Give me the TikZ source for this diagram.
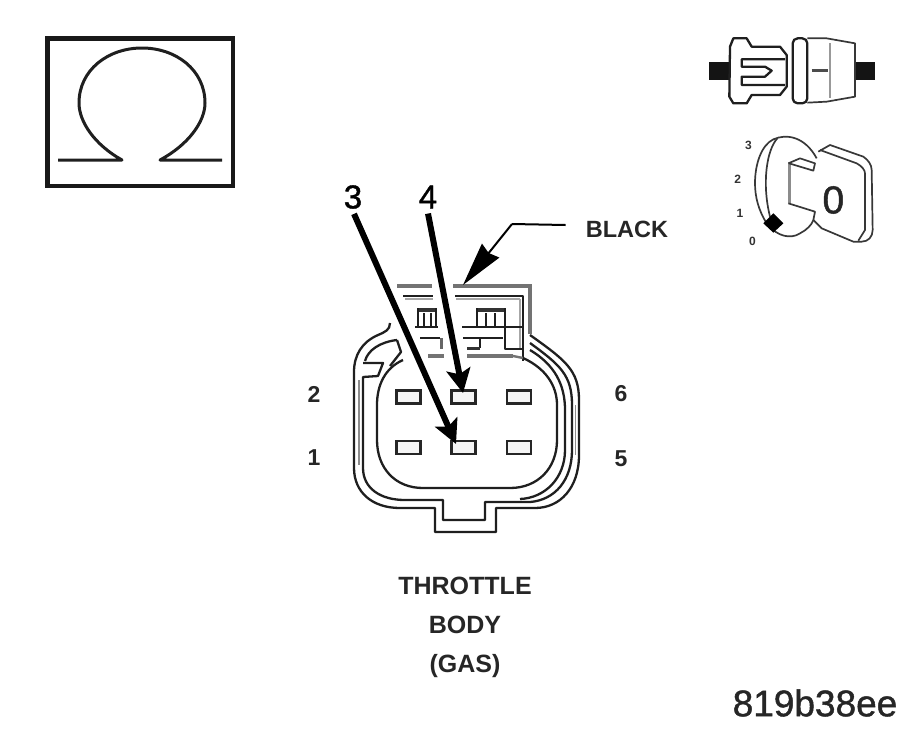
\documentclass[tikz,border=0pt]{standalone}
\usepackage{fontspec}
\setmainfont{Liberation Sans}
\newfontfamily\heavyfont[FakeBold=1.2]{Liberation Sans}
\usetikzlibrary{arrows.meta}
\newcommand{\fsz}[1]{\fontsize{#1}{#1}\selectfont}
\tikzset{
 ink/.style={draw=black!88,line width=2.3pt,line join=round},
 thinink/.style={draw=black!78,line width=1.7pt,line join=round},
 greyline/.style={draw=black!55,line width=3.8pt},
 pinbox/.style={draw=black!85,line width=2.5pt,fill=black!4,minimum width=24pt,minimum height=13pt,inner sep=0pt,outer sep=0pt},
 biglabel/.style={font=\fsz{33}\heavyfont,inner sep=0pt},
 pinlabel/.style={font=\fsz{23}\bfseries,text=black!85,inner sep=0pt},
 caption/.style={font=\fsz{25}\bfseries,text=black!85,inner sep=0pt},
 keylabel/.style={font=\fsz{12}\bfseries,text=black!80,inner sep=0pt},
 pointer/.style={draw=black,line width=6pt,-{Stealth[length=24pt,width=24pt,inset=5pt]}},
}
\begin{document}
\begin{tikzpicture}[x=1pt,y=-1pt]
\useasboundingbox (0,0) rectangle (917,734);
% Omega box
\draw[draw=black!90,line width=4.5pt] (47.5,38.5) rectangle (233,186);
\draw[ink,line width=3pt] (58,160) -- (122,160) .. controls (95,145) and (79,122) .. (79,103)
  .. controls (79,70) and (108,48) .. (142,48) .. controls (176,48) and (205,70) .. (205,103)
  .. controls (205,122) and (188,145) .. (160,160) -- (222,160);
% Switch icon
\begin{scope}[shift={(690,30)},scale=1/3]
 \fill[black!92] (58,95) rectangle (120,150);
 \fill[black!92] (497,95) rectangle (555,150);
 \draw[ink] (120,50) -- (130,25) -- (170,25) -- (185,50) -- (270,50) -- (290,75) -- (290,170) -- (270,195) -- (185,195) -- (170,220) -- (130,220) -- (118,200) -- cycle;
 \draw[ink] (285,88) -- (155,88) -- (155,110) -- (225,110) -- (245,122) -- (225,140) -- (155,140) -- (155,165) -- (285,165);
 \draw[ink,rounded corners=5pt] (308,25) rectangle (352,220);
 \draw[thinink] (352,25) -- (410,25) -- (495,40) -- (495,200) -- (410,215) -- (352,218);
 \draw[draw=black!40,line width=2pt] (420,40) -- (420,205);
 \draw[draw=black!70,line width=3pt] (365,120) -- (415,120);
 % key
 \draw[thinink] (230,580) .. controls (205,540) and (195,500) .. (195,460) .. controls (195,400) and (215,345) .. (250,328) .. controls (290,310) and (345,320) .. (380,385);
 \draw[thinink] (262,325) .. controls (230,360) and (215,460) .. (240,560);
 \draw[thinink] (240,590) .. controls (260,615) and (300,630) .. (330,610) .. controls (350,600) and (365,585) .. (370,570);
 \draw[draw=black!45,line width=3pt] (297,400) -- (297,520);
 \draw[thinink] (295,400) -- (330,385) -- (375,400) -- (370,422) -- (297,400);
 \draw[thinink] (295,520) -- (375,545) -- (370,570);
 \draw[thinink] (385,365) -- (420,345) -- (520,380) .. controls (535,390) and (545,405) .. (545,420) -- (548,600) .. controls (548,620) and (535,635) .. (515,635) -- (490,635) -- (395,595) -- (370,570);
 \draw[thinink] (390,360) -- (500,400) .. controls (515,408) and (525,420) .. (525,430) -- (525,600) -- (505,632);
 \fill[black] (250,550) -- (280,580) -- (250,608) -- (220,580) -- cycle;
 \node[keylabel] (k3) at (175,347) {3};
 \node[keylabel] (k2) at (143,448) {2};
 \node[keylabel] (k1) at (150,550) {1};
 \node[keylabel] (k0) at (187,635) {0};
 \node[font=\fsz{39}\heavyfont,text=black!85,inner sep=0pt] (k) at (430,510) {0};
\end{scope}
% Connector top part
\draw[greyline] (397,286) -- (432,286);
\draw[greyline] (453,286) -- (532,286);
\draw[greyline] (530,286) -- (530,334);
\draw[draw=black!35,line width=2pt] (520,299) -- (520,348) (456,299) -- (520,299) (405,299) -- (433,299);
\draw[ink] (403,296) -- (433,296);
\draw[ink] (455,296) -- (523,296) -- (523,361);
% left latch
\draw[draw=black!80,line width=4pt] (418,310) -- (436,310);
\draw[ink] (418,308) -- (418,327) (436,308) -- (436,327) (424,313) -- (424,327) (431,313) -- (431,327);
\draw[ink] (415,327) -- (438,327);
\draw[ink] (420,338) -- (440,338);
\draw[draw=black!60,line width=3pt] (441,338) -- (441,349);
\draw[greyline] (428,356) -- (444,356);
% right latch
\draw[draw=black!80,line width=4pt] (477,310) -- (505,310);
\draw[ink] (477,308) -- (477,327) (486,313) -- (486,327) (495,313) -- (495,327) (505,308) -- (505,349) -- (523,349);
\draw[ink] (462,327) -- (523,327);
\draw[ink] (463,338) -- (503,338);
\draw[ink] (480,338) -- (480,348);
\draw[draw=black!80,line width=3pt] (467,348) -- (480,348);
\draw[greyline] (467,356) -- (513,356);
\draw[greyline,line width=2.4pt] (513,356) -- (523,358);
% shell, outer line
\draw[ink] (390,323) .. controls (390,330) and (385,332) .. (378,335) .. controls (362,342) and (354,355) .. (354,372)
  -- (354,468) .. controls (354,492) and (372,508) .. (400,508) -- (435,508) -- (435,532) -- (496,532) -- (496,508) -- (535,508)
  .. controls (560,508) and (579,488) .. (579,455) -- (579,400) .. controls (579,370) and (565,360) .. (530,335);
% second line
\draw[ink] (397,340) .. controls (380,342) and (368,350) .. (365,361);
\draw[ink] (363,363) -- (383,363) -- (378,376) -- (363,377) -- (363,468) .. controls (363,488) and (380,500) .. (405,500)
  -- (443,500) -- (443,520) -- (485,520) -- (485,502) -- (530,502)
  .. controls (555,500) and (572,480) .. (572,450) -- (572,405) .. controls (572,375) and (560,365) .. (530,343);
\draw[draw=black!45,line width=2pt] (358.5,380) -- (358.5,465);
\draw[draw=black!45,line width=1.6pt] (575.5,405) -- (575.5,455);
% third line
\draw[ink] (397,340) -- (401,352) -- (390,366);
\draw[ink] (530,350) .. controls (555,365) and (565,385) .. (565,410) -- (565,450) .. controls (565,478) and (545,498) .. (520,499);
% inner body
\draw[ink] (403,360) .. controls (385,368) and (377,385) .. (377,405) -- (377,440) .. controls (377,468) and (395,488) .. (423,488)
  -- (510,488) .. controls (538,488) and (557,468) .. (557,440) -- (557,405) .. controls (557,385) and (545,368) .. (523,358);
% pins
\node[pinbox] (p2) at (408.5,397) {};
\node[pinbox] (p4) at (463.5,397) {};
\node[pinbox] (p6) at (519,397) {};
\node[pinbox] (p1) at (408.5,447.5) {};
\node[pinbox] (p3) at (463.5,447.5) {};
\node[pinbox] (p5) at (519,447.5) {};
% labels
\node[biglabel] (l3) at (353,197) {3};
\node[biglabel] (l4) at (428,197) {4};
\node[font=\fsz{23.5}\bfseries,text=black!85,inner sep=0pt] (black) at (627,229) {BLACK};
\node[pinlabel] (n2) at (314,394) {2};
\node[pinlabel] (n1) at (314,458) {1};
\node[pinlabel] (n6) at (621,394) {6};
\node[pinlabel] (n5) at (621,459) {5};
\node[caption] (t1) at (465,586) {THROTTLE};
\node[caption] (t2) at (465,625) {BODY};
\node[caption] (t3) at (465,666) {(GAS)};
\node[font=\fsz{37}\heavyfont,text=black!85,inner sep=0pt] (code) at (815,703) {819b38ee};
% arrows
\coordinate (tip3) at (456,444);
\coordinate (tip4) at (463,393);
\coordinate (tipb) at (463,285);
\coordinate (bend) at (512,224);
\draw[pointer] (l3.south) ++(1,5) -- (tip3);
\draw[pointer] (l4.south) ++(0,5) -- (tip4);
\draw[draw=black,line width=2pt] (black.west) ++(-20,-4) -- (bend);
\draw[draw=black,line width=2pt,-{Stealth[length=44pt,width=22pt,inset=3pt]}] (bend) -- (tipb);
\end{tikzpicture}
\end{document}
